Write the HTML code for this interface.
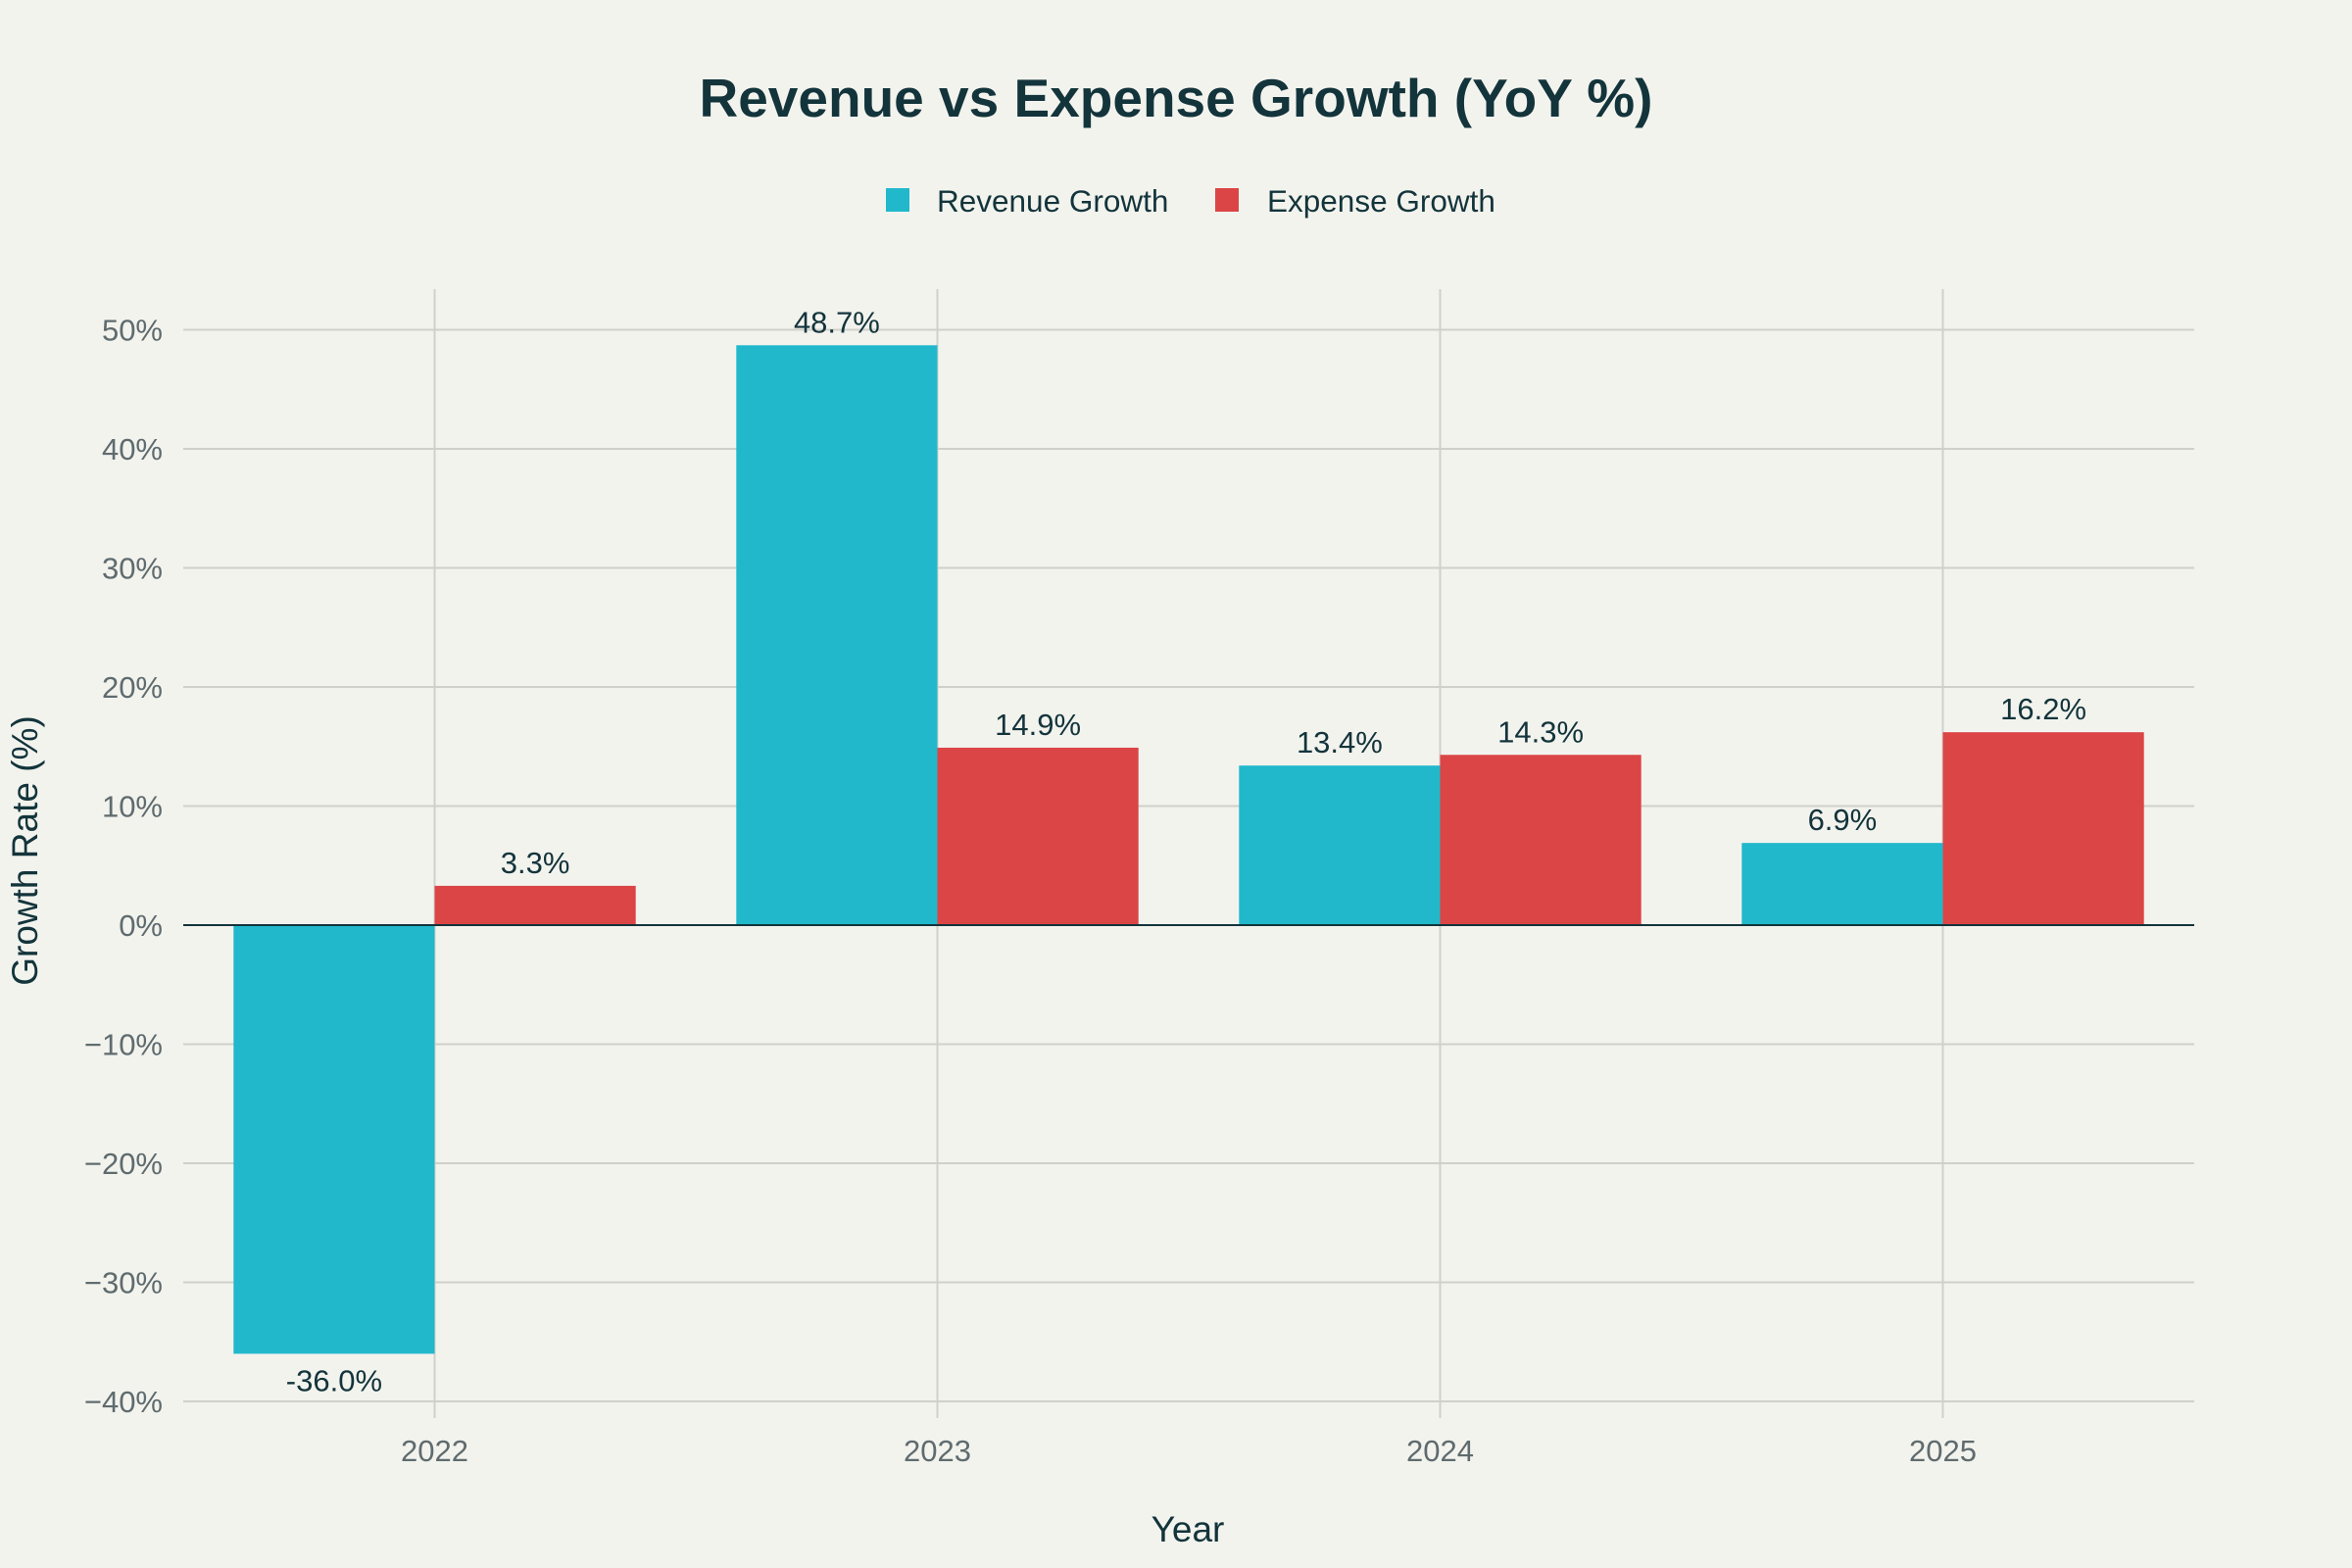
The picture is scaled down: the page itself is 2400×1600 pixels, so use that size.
<!DOCTYPE html>
<html><head><meta charset="utf-8"><style>
html,body{margin:0;padding:0;background:#f3f3ee;}
svg{display:block;font-family:"Liberation Sans",sans-serif;}
</style></head><body>
<svg id="chart" width="2400" height="1600" xmlns="http://www.w3.org/2000/svg">
<rect width="2400" height="1600" fill="#f3f3ee"/>
<text x="1200" y="119" text-anchor="middle" font-size="55" font-weight="bold" fill="#13343b">Revenue vs Expense Growth (YoY %)</text>
<g>
<rect x="904" y="192" width="24" height="24" fill="#21b8cc"/>
<text x="956" y="216" font-size="31.5" fill="#13343b">Revenue Growth</text>
<rect x="1240" y="192" width="24" height="24" fill="#db4546"/>
<text x="1293" y="216" font-size="31.5" fill="#13343b">Expense Growth</text>
</g>
<g id="grid"></g>
<g id="bars"></g>
<g id="labels"></g>
<text x="1212" y="1573" text-anchor="middle" font-size="37" fill="#13343b">Year</text>
<text transform="translate(38,868) rotate(-90)" text-anchor="middle" font-size="37" fill="#13343b">Growth Rate (%)</text>
</svg>
<script>
const categories = ["2022","2023","2024","2025"];
const revenue = [-36.0, 48.7, 13.4, 6.9];
const expense = [3.3, 14.9, 14.3, 16.2];
const yTicks = [50,40,30,20,10,0,-10,-20,-30,-40];
const NS="http://www.w3.org/2000/svg";
const L=187,R=2239,T=295,B=1447;
const y0=944, perUnit=12.15;
function yS(v){return y0 - v*perUnit;}
const step=(R-L)/categories.length;
function xS(i){return L+step*(i+0.5);}
const bw=step*0.4;
function mk(tag,attrs,parent){const e=document.createElementNS(NS,tag);for(const k in attrs)e.setAttribute(k,attrs[k]);parent.appendChild(e);return e;}
const grid=document.getElementById('grid'),bars=document.getElementById('bars'),labels=document.getElementById('labels');
yTicks.forEach(t=>{
  const y=yS(t);
  if(t!==0){const l=mk('line',{x1:L,x2:R,y1:y,y2:y,stroke:'#d0d0cb','stroke-width':2},grid);
  
  }
  const tx=mk('text',{x:166,y:y+11,'text-anchor':'end','font-size':31,fill:'#5f6b6e'},grid);
  tx.textContent=(t<0?'\u2212'+(-t):t)+'%';
  
  
});
categories.forEach((c,i)=>{
  const x=xS(i);
  const l=mk('line',{x1:x,x2:x,y1:T,y2:B,stroke:'#d0d0cb','stroke-width':2},grid);
  
  
  const tx=mk('text',{x:x,y:1491,'text-anchor':'middle','font-size':31,fill:'#5f6b6e'},grid);
  tx.textContent=c;
  
  
});
function drawSeries(vals,off,color,name){
  vals.forEach((v,i)=>{
    const x=xS(i)+off*bw, top=Math.min(yS(v),y0), h=Math.abs(yS(v)-y0);
    const r=mk('rect',{x:x,y:top,width:bw,height:h,fill:color},bars);
    
    
    const ly = v>=0 ? yS(v)-13 : yS(v)+38;
    const t=mk('text',{x:x+bw/2,y:ly,'text-anchor':'middle','font-size':31,fill:'#13343b'},labels);
    t.textContent=v.toFixed(1)+'%';
    
    
  });
}
drawSeries(revenue,-1,'#21b8cc','revenue');
drawSeries(expense,0,'#db4546','expense');
const z=mk('line',{x1:L,x2:R,y1:y0,y2:y0,stroke:'#13343b','stroke-width':2},bars);


</script>
</body></html>
